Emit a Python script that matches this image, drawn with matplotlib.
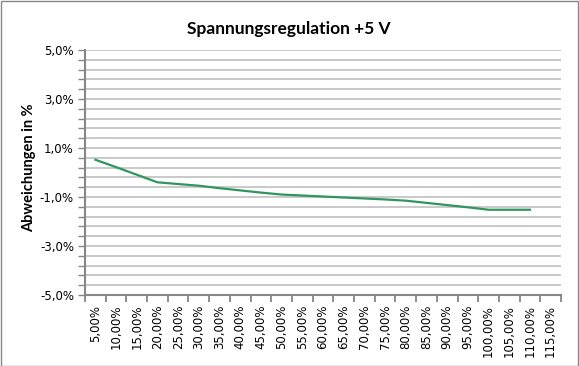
import numpy as np
import matplotlib
matplotlib.use("Agg")
import matplotlib.pyplot as plt
from matplotlib.patches import Rectangle

# load levels (x categories) and measured deviation in percent
load_pct = list(range(5, 120, 5))
deviation = [0.52, 0.22, -0.09, -0.40, -0.47, -0.54, -0.64, -0.73, -0.82,
             -0.90, -0.94, -0.98, -1.02, -1.06, -1.10, -1.15, -1.24, -1.33,
             -1.42, -1.52, -1.52, -1.52]
x_labels = ["%d,00%%" % v for v in load_pct]
y_major = [-5, -3, -1, 1, 3, 5]
y_labels = ["%d,0%%" % v for v in y_major]

AXIS_GREY = "#868686"
GRID_GREY = "#bababa"
LINE_GREEN = "#31955f"
TICK_FONT = dict(family="DejaVu Sans", size=8.5, color="black")

fig = plt.figure(figsize=(5.79, 3.66), dpi=100)
ax = fig.add_axes([85 / 579, 1 - 295 / 366, 476 / 579, 245 / 366])

x = np.arange(len(deviation))
ax.plot(x, deviation, color=LINE_GREEN, lw=1.6, solid_joinstyle="miter", zorder=3)

ax.set_xlim(-0.5, len(load_pct) - 0.5)
ax.set_ylim(-5, 5)

# y axis: labels every 2 %, grid every 0.4 %
ax.set_yticks(y_major)
ax.set_yticklabels(y_labels, fontdict=TICK_FONT)
ax.set_yticks(np.arange(-5, 5.01, 0.4), minor=True)
ax.grid(True, axis="y", which="both", color=GRID_GREY, lw=1.1, zorder=0)

# x axis: categories, ticks between them
ax.set_xticks(np.arange(-0.5, len(load_pct) + 0.5, 1), minor=False)
ax.set_xticklabels([])
ax.set_xticks(np.arange(len(load_pct)), minor=True)
ax.set_xticklabels(x_labels, minor=True, rotation=90, va="top", ha="center",
                   fontdict=TICK_FONT)
ax.tick_params(axis="x", which="minor", length=0, pad=7)
ax.tick_params(axis="x", which="major", length=5, width=1.3, color=AXIS_GREY)
ax.tick_params(axis="y", which="both", length=5, width=1.0, color=AXIS_GREY, pad=3)

for s in ["top", "right"]:
    ax.spines[s].set_visible(False)
for s in ["left", "bottom"]:
    ax.spines[s].set_color(AXIS_GREY)
    ax.spines[s].set_linewidth(1.5)

fig.text(289 / 579, 1 - 29 / 366, "Spannungsregulation +5 V", ha="center", va="center",
         fontsize=12.5, fontweight="bold", family="Lato")
fig.text(29 / 579, 1 - 168 / 366, "Abweichungen in %", ha="center", va="center",
         rotation=90, fontsize=10.5, fontweight="bold", family="Lato")

# chart border
fig.patches.append(Rectangle((0.5 / 579, 0.5 / 366), 577.5 / 579, 364.5 / 366,
                             transform=fig.transFigure, fill=False,
                             edgecolor="#888888", lw=1.0))

fig.savefig("out.png", dpi=100)
